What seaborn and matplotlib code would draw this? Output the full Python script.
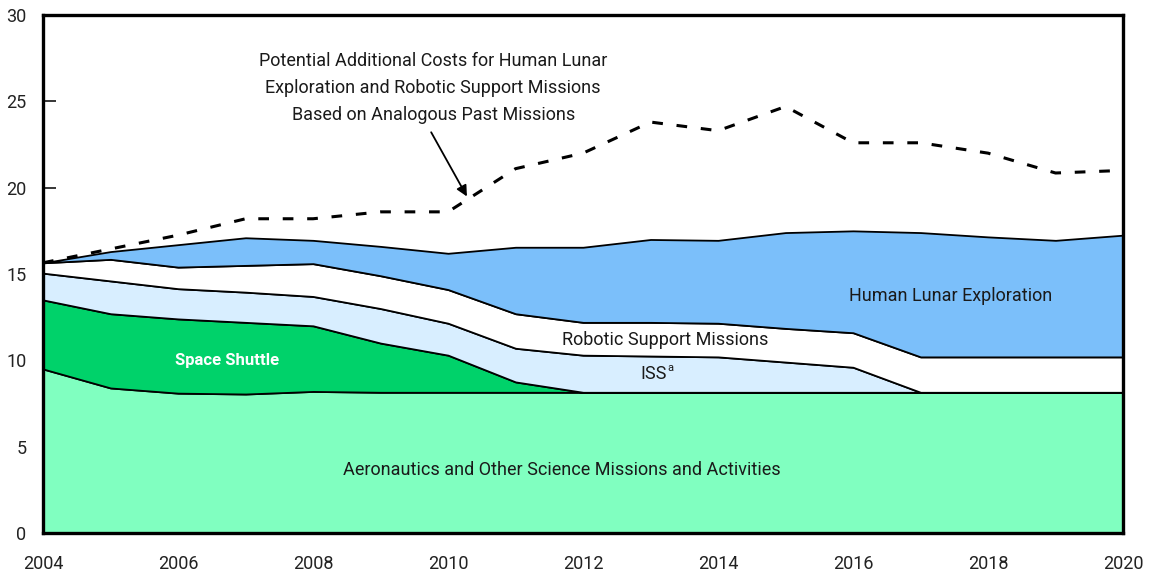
import numpy as np
import pandas as pd
import matplotlib
matplotlib.use("Agg")
import matplotlib.pyplot as plt
import seaborn as sns

# --- data (billions) ---
years = list(range(2004, 2021))
aeronautics = [9.5, 8.4, 8.1, 8.05, 8.2, 8.15, 8.15, 8.15, 8.15, 8.15, 8.15, 8.15, 8.15, 8.15, 8.15, 8.15, 8.15]
shuttle = [4.0, 4.3, 4.3, 4.15, 3.8, 2.85, 2.15, 0.6, 0, 0, 0, 0, 0, 0, 0, 0, 0]
iss = [1.55, 1.9, 1.75, 1.75, 1.7, 2.0, 1.85, 1.95, 2.15, 2.1, 2.05, 1.75, 1.45, 0, 0, 0, 0]
robotic = [0.6, 1.25, 1.25, 1.55, 1.9, 1.9, 1.95, 2.0, 1.9, 1.95, 1.95, 1.95, 2.0, 2.05, 2.05, 2.05, 2.05]
lunar = [0, 0.45, 1.3, 1.6, 1.35, 1.7, 2.1, 3.85, 4.35, 4.8, 4.8, 5.55, 5.9, 7.2, 6.95, 6.75, 7.05]
potential_total = [15.65, 16.45, 17.25, 18.2, 18.2, 18.6, 18.6, 21.1, 22.0, 23.8, 23.3, 24.7, 22.6, 22.6, 22.0, 20.85, 21.0]

layer_colors = ["#80FFC0", "#00D26A", "#D8EEFF", "#FFFFFF", "#7BBFFA"]

sns.set_theme(style="white")
plt.rcParams['font.family'] = ['Roboto', 'DejaVu Sans']

fig = plt.figure(figsize=(11.51, 5.73), dpi=100)
ax = fig.add_axes([0.0374, 0.0698, 0.9383, 0.904])

ax.stackplot(years, aeronautics, shuttle, iss, robotic, lunar,
             colors=layer_colors, edgecolor="black", linewidth=1.3)

df = pd.DataFrame({"year": years, "total": potential_total})
sns.lineplot(data=df, x="year", y="total", ax=ax, color="black",
             linewidth=2.2, linestyle=(0, (3.5, 4.5)))

ax.set_xlim(2004, 2020)
ax.set_ylim(0, 30)
ax.set_xticks(range(2004, 2021, 2))
ax.set_yticks(range(0, 31, 5))
ax.set_xlabel("")
ax.set_ylabel("")
ax.tick_params(axis="both", direction="in", length=9, width=1.1, labelsize=13,
               colors="black", labelcolor="#222222", left=True, bottom=True)
ax.tick_params(axis="x", pad=16)
ax.tick_params(axis="y", pad=12)
for s in ax.spines.values():
    s.set_color("black")
    s.set_linewidth(2.4)

# labels
lab = dict(fontsize=13, color="#1a1a1a", ha="center", va="center")
ax.text(2011.68, 3.65, "Aeronautics and Other Science Missions and Activities", **lab)
ax.text(2006.72, 10.0, "Space Shuttle", fontsize=12, color="white", weight="bold",
        ha="center", va="center")
ax.text(2013.22, 11.2, "Robotic Support Missions", **lab)
ax.text(2013.05, 9.2, "ISS", **lab)
ax.text(2013.3, 9.55, "a", fontsize=8, color="#1a1a1a", ha="center", va="center")
ax.text(2017.45, 13.75, "Human Lunar Exploration", **lab)
ax.text(2009.78, 25.78,
        "Potential Additional Costs for Human Lunar\nExploration and Robotic Support Missions\nBased on Analogous Past Missions",
        fontsize=13, color="#1a1a1a", ha="center", va="center", linespacing=1.62)
ax.annotate("", xy=(2010.3, 19.35), xytext=(2009.73, 23.35),
            arrowprops=dict(arrowstyle="-|>", color="black", lw=1.3,
                            mutation_scale=16))

fig.savefig("out.png", dpi=100)
